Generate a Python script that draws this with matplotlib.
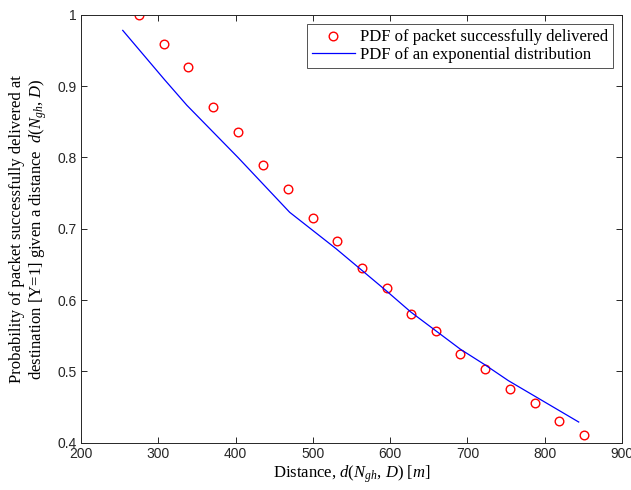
import matplotlib
matplotlib.use("Agg")
import matplotlib.pyplot as plt

# Data
pkt_distance = [275, 307, 339, 371, 403, 435, 468, 500, 531, 563, 596, 627, 659, 691, 723, 755, 787, 819, 851]
pkt_prob = [1.0, 0.959, 0.926, 0.870, 0.836, 0.790, 0.755, 0.715, 0.683, 0.645, 0.617, 0.580, 0.557, 0.525, 0.503, 0.475, 0.455, 0.430, 0.411]

exp_distance = [254, 308, 337, 403, 470, 530, 595, 627, 659, 691, 723, 753, 844]
exp_prob = [0.978, 0.909, 0.873, 0.800, 0.723, 0.672, 0.613, 0.583, 0.557, 0.531, 0.509, 0.487, 0.429]

xticks = [200, 300, 400, 500, 600, 700, 800, 900]
yticks = [0.4, 0.5, 0.6, 0.7, 0.8, 0.9, 1.0]
ytick_labels = ["0.4", "0.5", "0.6", "0.7", "0.8", "0.9", "1"]

plt.rcParams['mathtext.fontset'] = 'custom'
plt.rcParams['mathtext.rm'] = 'Liberation Serif'
plt.rcParams['mathtext.it'] = 'Liberation Serif:italic'

fig = plt.figure(figsize=(6.31, 4.90), dpi=100)
ax = fig.add_axes([0.1284, 0.0965, 0.8573, 0.8735])

ax.plot(pkt_distance, pkt_prob, 'o', color='red', markerfacecolor='none',
        markersize=6.2, markeredgewidth=1.0, label='PDF of packet successfully delivered')
ax.plot(exp_distance, exp_prob, '-', color='blue', linewidth=0.9,
        label='PDF of an exponential distribution')

ax.set_xlim(200, 900)
ax.set_ylim(0.4, 1.0)
ax.set_xticks(xticks)
ax.set_xticklabels([str(t) for t in xticks])
ax.set_yticks(yticks)
ax.set_yticklabels(ytick_labels)

for lab in ax.get_xticklabels() + ax.get_yticklabels():
    lab.set_family('Liberation Sans')
    lab.set_fontsize(10)
    lab.set_color('#262626')

ax.tick_params(direction='in', length=4.5, width=0.7, top=True, right=True, colors='#262626', pad=3)
for s in ax.spines.values():
    s.set_linewidth(0.7)
    s.set_color('#262626')

ax.set_xlabel('Distance, $d(N_{gh},\\, D)\\ [m]$', family='Liberation Serif', fontsize=12, labelpad=2)
ax.set_ylabel('Probability of packet successfully delivered at\ndestination [Y=1] given a distance  $d(N_{gh},\\, D)$',
              family='Liberation Serif', fontsize=12, labelpad=6)

leg = ax.legend(loc='upper right', bbox_to_anchor=(0.99, 0.985), prop={'family': 'Liberation Serif', 'size': 12},
                frameon=True, fancybox=False, edgecolor='#262626', borderpad=0.3, labelspacing=0.1,
                handlelength=2.6, handletextpad=0.3, borderaxespad=0.2)
leg.get_frame().set_linewidth(0.7)

fig.savefig('out.png', dpi=100)
